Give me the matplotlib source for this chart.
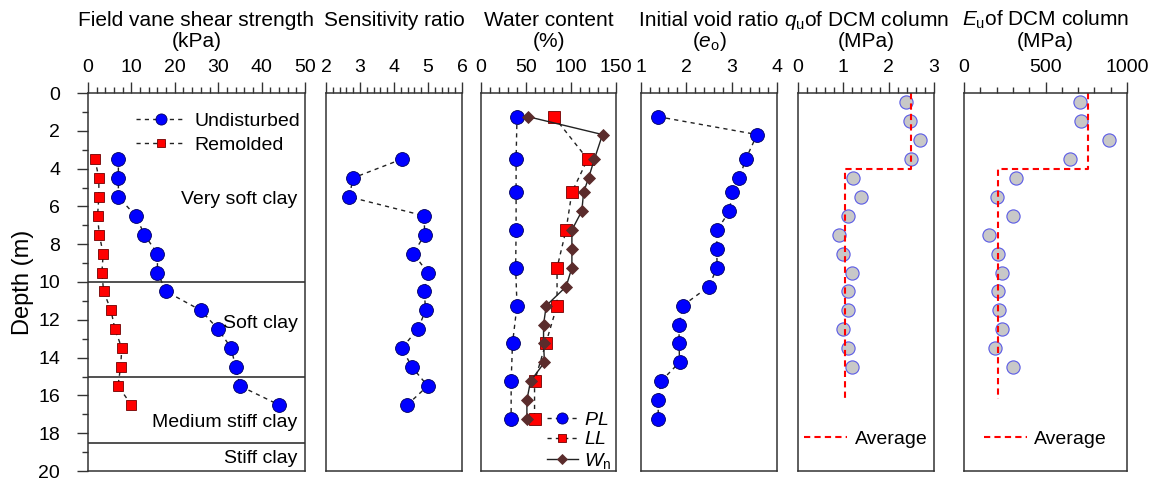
import matplotlib
matplotlib.use("Agg")
import matplotlib.pyplot as plt
from matplotlib.ticker import MultipleLocator

plt.rcParams['font.family'] = ['Liberation Sans', 'DejaVu Sans']
plt.rcParams['mathtext.fontset'] = 'custom'
plt.rcParams['mathtext.rm'] = 'Liberation Sans'
plt.rcParams['mathtext.it'] = 'Liberation Sans:italic'

# ---------------- data ----------------
depth_vane = [3.5, 4.5, 5.5, 6.5, 7.5, 8.5, 9.5, 10.5, 11.5, 12.5, 13.5, 14.5, 15.5, 16.5]
su_undisturbed = [7, 7, 7, 11, 13, 16, 16, 18, 26, 30, 33, 34, 35, 44]
su_remolded = [1.6, 2.5, 2.5, 2.2, 2.6, 3.5, 3.2, 3.6, 5.3, 6.2, 7.8, 7.5, 6.9, 10.0]
sensitivity = [4.23, 2.79, 2.69, 4.89, 4.90, 4.57, 4.99, 4.89, 4.93, 4.70, 4.23, 4.53, 4.99, 4.39]

depth_limits = [1.25, 3.5, 5.25, 7.25, 9.25, 11.25, 13.25, 15.25, 17.25]
PL = [40, 39, 39, 39, 38.5, 40, 35, 33.5, 33.5]
LL = [81, 118.5, 101, 94.5, 84.5, 84.5, 72, 59.5, 59.5]

depth_wn = [1.25, 2.2, 3.5, 4.5, 5.25, 6.25, 7.25, 8.25, 9.25, 10.25, 11.25, 12.25,
            13.25, 14.25, 15.25, 16.25, 17.25]
Wn = [52, 135, 126, 119.5, 114, 112, 101, 101, 101, 94.5, 72.5, 69.5, 69.5, 70.5, 55, 51, 51]
e0 = [1.37, 3.56, 3.31, 3.17, 3.01, 2.95, 2.68, 2.67, 2.68, 2.49, 1.92, 1.84, 1.84, 1.85,
      1.44, 1.38, 1.38]

depth_dcm = [0.5, 1.5, 2.5, 3.5, 4.5, 5.5, 6.5, 7.5, 8.5, 9.5, 10.5, 11.5, 12.5, 13.5, 14.5]
qu = [2.38, 2.48, 2.69, 2.49, 1.22, 1.40, 1.11, 0.90, 0.99, 1.20, 1.11, 1.11, 0.99, 1.11, 1.20]
Eu = [709, 717, 891, 648, 320, 201, 299, 152, 211, 232, 211, 217, 232, 191, 299]

depth_avg = [0, 4, 4, 16.2]
qu_avg = [2.5, 2.5, 1.03, 1.03]
Eu_avg = [758, 758, 207, 207]

layer_bounds = [10, 15, 18.5]
layer_names = ["Very soft clay", "Soft clay", "Medium stiff clay", "Stiff clay"]
layer_label_depth = [5.65, 12.2, 17.45, 19.35]

# ---------------- layout ----------------
W, H = 1153, 482
fig = plt.figure(figsize=(W / 100, H / 100), dpi=100)

def px_axes(x0, x1, y0=93, y1=471):
    return fig.add_axes([x0 / W, 1 - y1 / H, (x1 - x0) / W, (y1 - y0) / H])

panels = [(88, 305), (326, 462), (481, 616), (641, 777), (798, 934), (964, 1127)]
xlims = [(0, 50), (2, 6), (0, 150), (1, 4), (0, 3), (0, 1000)]
majors = [10, 1, 50, 1, 1, 500]
minors = [2, 0.2, 10, 0.2, 0.2, 100]
titles1 = ["Field vane shear strength", "Sensitivity ratio", "Water content",
           "Initial void ratio", r"$q_{\rm u}$of DCM column", r"$E_{\rm u}$of DCM column"]
titles2 = ["(kPa)", None, "(%)", r"($e_{\rm o}$)", "(MPa)", "(MPa)"]

spine_c = '#333333'
axes = []
for i, ((x0, x1), xl) in enumerate(zip(panels, xlims)):
    ax = px_axes(x0, x1)
    ax.set_xlim(*xl)
    ax.set_ylim(20, 0)
    ax.xaxis.set_major_locator(MultipleLocator(majors[i]))
    ax.xaxis.set_minor_locator(MultipleLocator(minors[i]))
    ax.xaxis.tick_top()
    ax.tick_params(axis='x', which='major', direction='out', length=8, width=1,
                   labelsize=14, pad=4, color=spine_c)
    ax.tick_params(axis='x', which='minor', direction='out', length=4, width=1, color=spine_c)
    for s in ax.spines.values():
        s.set_color(spine_c)
        s.set_linewidth(1.1)
    if i == 0:
        ax.yaxis.set_major_locator(MultipleLocator(2))
        ax.yaxis.set_minor_locator(MultipleLocator(1))
        ax.tick_params(axis='y', which='major', direction='out', length=8, width=1,
                       labelsize=14, pad=12, color=spine_c)
        ax.tick_params(axis='y', which='minor', direction='out', length=4, width=1, color=spine_c)
    else:
        ax.tick_params(axis='y', which='both', left=False, labelleft=False)
    cx = (x0 + x1) / 2 / W
    fig.text(cx, 1 - 26 / H, titles1[i], ha='center', va='baseline', fontsize=15)
    if titles2[i]:
        fig.text(cx, 1 - 47 / H, titles2[i], ha='center', va='baseline', fontsize=15)
    axes.append(ax)

fig.text(23 / W, 1 - 282 / H, "Depth (m)", rotation=90, ha='center', va='center', fontsize=17)

blue = '#0000FF'
red = '#FF0000'
brown = '#5B2C2C'
dash = (0, (3, 3))

# Panel 1: vane shear
ax = axes[0]
ax.plot(su_undisturbed, depth_vane, linestyle=dash, color='#222222', lw=1, marker='o',
        ms=10, mfc=blue, mec='#000060', mew=0.6, label='Undisturbed')
ax.plot(su_remolded, depth_vane, linestyle=dash, color='#222222', lw=1, marker='s',
        ms=7.5, mfc=red, mec='#700000', mew=0.6, label='Remolded')
for b in layer_bounds:
    ax.axhline(b, color='#222222', lw=1.1)
for name, d in zip(layer_names, layer_label_depth):
    ax.text(0.965, d, name, transform=ax.get_yaxis_transform(), ha='right', va='center',
            fontsize=14)
ax.legend(loc='upper right', bbox_to_anchor=(1.03, 0.98), frameon=False, fontsize=14,
          numpoints=1, handlelength=2.6, handletextpad=0.4, labelspacing=0.35,
          borderaxespad=0.2, markerscale=0.8)

# Panel 2: sensitivity
ax = axes[1]
ax.plot(sensitivity, depth_vane, linestyle=dash, color='#222222', lw=1, marker='o',
        ms=10, mfc=blue, mec='#000060', mew=0.6)

# Panel 3: water content
ax = axes[2]
ax.plot(PL, depth_limits, linestyle=dash, color='#222222', lw=1, marker='o',
        ms=10, mfc=blue, mec='#000060', mew=0.6, label='$PL$')
ax.plot(LL, depth_limits, linestyle=dash, color='#222222', lw=1, marker='s',
        ms=8, mfc=red, mec='#700000', mew=0.6, label='$LL$')
ax.plot(Wn, depth_wn, linestyle='-', color='#222222', lw=1, marker='D',
        ms=6.5, mfc=brown, mec=brown, mew=0.6, label=r'$W_{\rm n}$')
ax.legend(loc='lower right', bbox_to_anchor=(1.02, -0.02), frameon=False, fontsize=14,
          numpoints=1, handlelength=1.6, handletextpad=0.3, labelspacing=0.12,
          borderaxespad=0.0, markerscale=0.8)

# Panel 4: void ratio
ax = axes[3]
ax.plot(e0, depth_wn, linestyle=dash, color='#222222', lw=1, marker='o',
        ms=10, mfc=blue, mec='#000060', mew=0.6)

# Panel 5 & 6: DCM
for ax, vals, avg in [(axes[4], qu, qu_avg), (axes[5], Eu, Eu_avg)]:
    ax.plot(vals, depth_dcm, linestyle='none', marker='o', ms=9.5, mfc='#C8C8C8',
            mec='#5A5AE6', mew=0.8)
    ax.plot(avg, depth_avg, linestyle=(0, (3, 2)), color=red, lw=1.5, label='Average')
    ax.legend(loc='lower center', bbox_to_anchor=(0.5, 0.015), frameon=False, fontsize=14,
              handlelength=2.2, handletextpad=0.4)

fig.savefig("out.png", dpi=100)
